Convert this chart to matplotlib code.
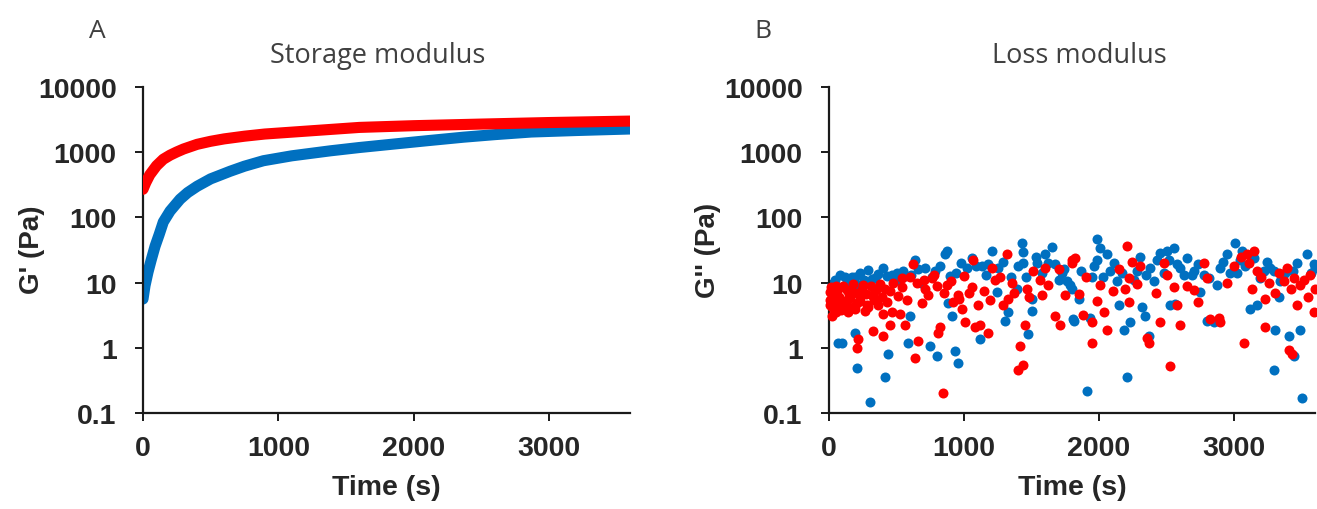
import numpy as np
import matplotlib
matplotlib.use("Agg")
import matplotlib.pyplot as plt

# ---- data ----
# panel A: storage modulus (curves)
t_red_a = [0, 20, 50, 100, 150, 200, 250, 300, 400, 500, 600, 750, 900, 1200, 1600, 2000,
           2500, 3000, 3600]
g_red_a = [270, 340, 450, 620, 780, 900, 1010, 1120, 1320, 1470, 1600, 1760, 1900, 2100,
           2400, 2550, 2700, 2850, 3000]

t_blue_a = [0, 15, 37, 60, 89, 120, 150, 200, 274, 330, 400, 500, 644, 750, 890, 1100, 1385,
            1600, 1880, 2100, 2370, 2600, 2870, 3200, 3600]
g_blue_a = [5.6, 9, 14.5, 22, 36, 55, 85, 125, 190, 240, 300, 390, 510, 610, 740, 880, 1050,
            1180, 1350, 1500, 1700, 1860, 2040, 2150, 2270]

# panel B: loss modulus (scatter)
t_blue_b = [70, 95, 193, 205, 303, 415, 440, 588, 600, 797, 748, 933, 953, 884, 1118, 1303,
            1476, 1501, 118, 168, 291, 402, 501, 637, 563, 711, 785, 859, 871, 896, 1020,
            1057, 1180, 1205, 1254, 1242, 1402, 1427, 1439, 1390, 1600, 1649, 1674, 1723,
            1760, 1797, 217, 340, 1501, 1328, 908, 1810,
            1985, 2010, 2059, 1985, 1948, 1788, 1849, 1812, 1936, 2084, 2133, 2146, 2183,
            2232, 2207, 1911, 2318, 2343, 2368, 2380, 2430, 2504, 2553, 2578, 2627, 2405,
            2528, 2565, 2800, 2849, 2874, 2899, 2948, 3010, 3047, 3022, 3121, 3170, 3244,
            3294, 3343, 3331, 3306, 3294, 3405, 3491, 3541, 3590, 3504, 3442, 2751, 2812,
            3195, 30, 260, 470, 680, 1090, 1350, 1540, 2280, 2690, 3380]
g_blue_b = [1.2, 1.2, 1.7, 0.49, 0.15, 0.36, 0.79, 1.2, 3.1, 0.74, 1.07, 0.89, 0.58, 4.8,
            1.35, 2.6, 1.6, 3.7, 12.4, 12, 15.8, 17, 14, 22, 12.8, 16.7, 14.9, 27, 31, 12.8,
            16.7, 24, 19, 31, 16.7, 7.2, 17.8, 40, 29, 8.1, 27, 35, 19, 14, 10.4, 8.1, 9.2,
            11.7, 5.7, 3.5, 3.1, 2.8,
            46, 34, 27, 22, 12.4, 9.2, 5.7, 2.6, 2.9, 14.9, 10.4, 4.5, 1.9, 2.5, 0.36, 0.22,
            4.2, 3.1, 1.5, 16.7, 22, 30, 34, 19, 13, 10.4, 4.5, 4.7, 2.6, 2.5, 9.2, 16.7, 27,
            41, 22, 14, 4.0, 4.5, 21, 15, 10.4, 6.0, 1.9, 0.46, 1.5, 1.9, 27, 19, 0.17, 0.74,
            7.2, 11.7, 11.7, 9.5, 11, 13, 10, 18, 12, 20, 15, 13, 14]
# upper band of blue points (denser part)
t_blue_b2 = [20, 45, 80, 140, 190, 230, 320, 360, 430, 520, 545, 610, 660, 760, 820, 940,
             980, 1130, 1160, 1290, 1440, 1460, 1530, 1580, 1620, 1700, 1740, 1870, 1960,
             2030, 2110, 2170, 2260, 2300, 2350, 2450, 2480, 2520, 2600, 2650, 2700, 2730,
             2780, 2920, 2970, 3060, 3080, 3150, 3220, 3270, 3360, 3440, 3470, 3570, 3600]
g_blue_b2 = [9.5, 11, 13, 10.5, 12, 14, 11.5, 13.5, 12.5, 11, 15, 13, 16, 12, 18, 14,
             20, 18, 13, 21, 20, 12, 25, 14, 20, 11, 16, 15, 18,
             12, 20, 14, 11, 25, 13, 28, 14, 22, 17, 24, 15, 19,
             13, 21, 14, 30, 18, 24, 15, 17, 13, 15, 20, 14, 17]

t_red_b = [5, 7, 20, 44, 69, 81, 118, 143, 168, 205, 242, 267, 316, 365, 402, 415, 217, 205,
           328, 402, 452, 526, 563, 637, 662, 476, 538, 625, 686, 735, 760, 810, 822, 847,
           871, 921, 958, 983, 1007, 1069, 1057, 1081, 1118, 1180, 1205, 1192, 1229, 1316,
           1353, 1328, 1415, 1402, 1439, 1452, 1464, 1513, 1575, 1600, 1674, 1711, 1797,
           1625, 711, 30, 55, 90, 130, 180, 230, 280, 330, 60, 110, 150,
           1825, 1800, 1849, 1948, 1948, 1985, 2010, 2035, 2059, 2207, 2244, 2220, 2195,
           2220, 2356, 2368, 2454, 2504, 2553, 2578, 2528, 2602, 2701, 2775, 2800, 2825,
           2899, 2887, 3072, 3096, 3146, 3170, 3133, 3232, 3232, 3392, 3442, 3491, 3467,
           3405, 3430, 3590, 3602, 3565, 3368]
g_red_b = [7.2, 4.5, 3.1, 5.7, 8.1, 4.0, 5.0, 3.5, 7.2, 4.8, 8.1, 3.7, 6.4, 4.5, 3.3, 8.1,
           1.35, 1.0, 1.8, 1.5, 2.2, 3.3, 2.2, 0.70, 1.27, 9.8, 11.7, 19, 4.8, 6.4, 11.7, 1.7,
           2.05, 0.20, 9.2, 5.0, 6.4, 4.0, 2.5, 22, 8.6, 2.05, 2.2, 1.7, 16.7, 5.4, 11, 27,
           9.8, 5.7, 1.06, 0.46, 0.55, 2.2, 8.1, 14.9, 6.4, 16.7, 3.1, 2.2, 22, 9.2, 8.1,
           5.2, 6.5, 3.8, 5.5, 4.2, 6.0, 4.6, 5.8, 3.9, 4.4, 6.8,
           24, 20, 6.8, 2.5, 1.2, 5.3, 9.2, 3.5, 1.9, 36, 21, 11.7, 8.1, 5.0, 1.43, 1.2, 2.5,
           13, 8.6, 4.5, 0.52, 2.2, 7.7, 20, 11.7, 2.8, 2.5, 2.9, 1.2, 27, 30, 15, 8.1, 5.7,
           2.05, 16.7, 11.7, 9.2, 4.5, 0.94, 0.79, 3.5, 8.1, 13, 10.4]
# dense red cluster and extra mid-band red points
t_red_b2 = [10, 15, 25, 35, 50, 55, 75, 90, 100, 125, 135, 155, 175, 190, 210, 230, 250,
            275, 290, 310, 330, 350, 380, 395, 430, 450, 470, 510, 540, 575, 600, 650, 700,
            780, 800, 850, 900, 960, 1000, 1040, 1100, 1150, 1270, 1290, 1370, 1480, 1560,
            1700, 1750, 1880, 1900, 2100, 2150, 2280, 2300, 2420, 2480, 2650, 2730, 2950,
            3000, 3050, 3110, 3200, 3260, 3300, 3330, 3420, 3520, 3550]
g_red_b2 = [5.5, 8.5, 4.2, 6.8, 3.6, 9, 6, 4.8, 8.8, 4.2, 7.6, 5.8, 9.5, 4.0, 7, 5.2, 9.2,
            6.6, 4.2, 8.8, 5.4, 7.8, 9.5, 6.0, 5.0, 7.5, 3.6, 6.2, 8.5, 5.5, 12, 9.8, 11,
            13, 9, 7, 10.5, 5.6, 12.5, 7, 4.5, 7.5, 12, 4.5, 7, 6, 11,
            16, 6.5, 3.2, 12, 7.5, 16, 9.5, 18, 7, 20, 9, 5, 10,
            18, 25, 20, 12, 10, 7, 14, 8, 11, 6]

yticks = [0.1, 1, 10, 100, 1000, 10000]
ytick_labels = ["0.1", "1", "10", "100", "1000", "10000"]
xticks = [0, 1000, 2000, 3000]

RED = "#ff0000"
BLUE = "#0070c0"
TXT = "#262626"
TITLE_C = "#404040"

fig = plt.figure(figsize=(13.17, 5.10), dpi=100)
W, H = 1317, 510

def px_axes(x0, x1, y_top, y_bot):
    return fig.add_axes([x0 / W, 1 - y_bot / H, (x1 - x0) / W, (y_bot - y_top) / H])

ax_a = px_axes(143, 630, 88, 414)
ax_b = px_axes(829, 1315, 88, 414)

ax_a.plot(t_blue_a, g_blue_a, color=BLUE, lw=8, solid_capstyle="round",
          solid_joinstyle="round", zorder=2)
ax_a.plot(t_red_a, g_red_a, color=RED, lw=8, solid_capstyle="round",
          solid_joinstyle="round", zorder=3)

ax_b.scatter(t_blue_b + t_blue_b2, g_blue_b + g_blue_b2, s=52, color=BLUE, linewidths=0,
             zorder=2, clip_on=False)
ax_b.scatter(t_red_b + t_red_b2, g_red_b + g_red_b2, s=52, color=RED, linewidths=0,
             zorder=3, clip_on=False)

for ax, ylab, lab_x in [(ax_a, "G' (Pa)", 32), (ax_b, "G'' (Pa)", 708)]:
    ax.set_yscale("log")
    ax.set_ylim(0.1, 10000)
    ax.set_xlim(0, 3600)
    ax.set_yticks(yticks)
    ax.set_yticklabels(ytick_labels)
    ax.yaxis.set_minor_locator(matplotlib.ticker.NullLocator())
    ax.set_xticks(xticks)
    ax.set_xticklabels([str(v) for v in xticks])
    for side in ["top", "right"]:
        ax.spines[side].set_visible(False)
    for side in ["left", "bottom"]:
        ax.spines[side].set_linewidth(1.6)
        ax.spines[side].set_color("#1a1a1a")
    ax.tick_params(axis="both", direction="out", length=6, width=1.4, color="#1a1a1a",
                   labelsize=20.5, labelcolor=TXT)
    ax.tick_params(axis="x", pad=10)
    ax.tick_params(axis="y", pad=13)
    for lbl in ax.get_xticklabels() + ax.get_yticklabels():
        lbl.set_fontfamily("Liberation Sans")
        lbl.set_fontweight("bold")
    ax.set_xlabel("Time (s)", fontsize=20.5, fontweight="bold", family="Liberation Sans", color=TXT)
    ax.set_ylabel(ylab, fontsize=20, fontweight="bold", family="Liberation Sans", color=TXT)
    ax.yaxis.set_label_coords(lab_x / W, 1 - 250 / H, transform=fig.transFigure)
    ax.xaxis.label.set_va("center")
    ax.yaxis.label.set_va("center")

ax_a.xaxis.set_label_coords(386 / W, 1 - 488 / H, transform=fig.transFigure)
ax_b.xaxis.set_label_coords(1072 / W, 1 - 488 / H, transform=fig.transFigure)

fig.text(97 / W, 1 - 32 / H, "A", fontsize=19, family="Open Sans", color=TITLE_C, ha="center", va="center")
fig.text(763 / W, 1 - 32 / H, "B", fontsize=19, family="Open Sans", color=TITLE_C, ha="center", va="center")
fig.text(378 / W, 1 - 56 / H, "Storage modulus", fontsize=19.5, family="Open Sans", color=TITLE_C,
         ha="center", va="center")
fig.text(1079 / W, 1 - 56 / H, "Loss modulus", fontsize=19.5, family="Open Sans", color=TITLE_C,
         ha="center", va="center")

fig.savefig("out.png", dpi=100, facecolor="white")
